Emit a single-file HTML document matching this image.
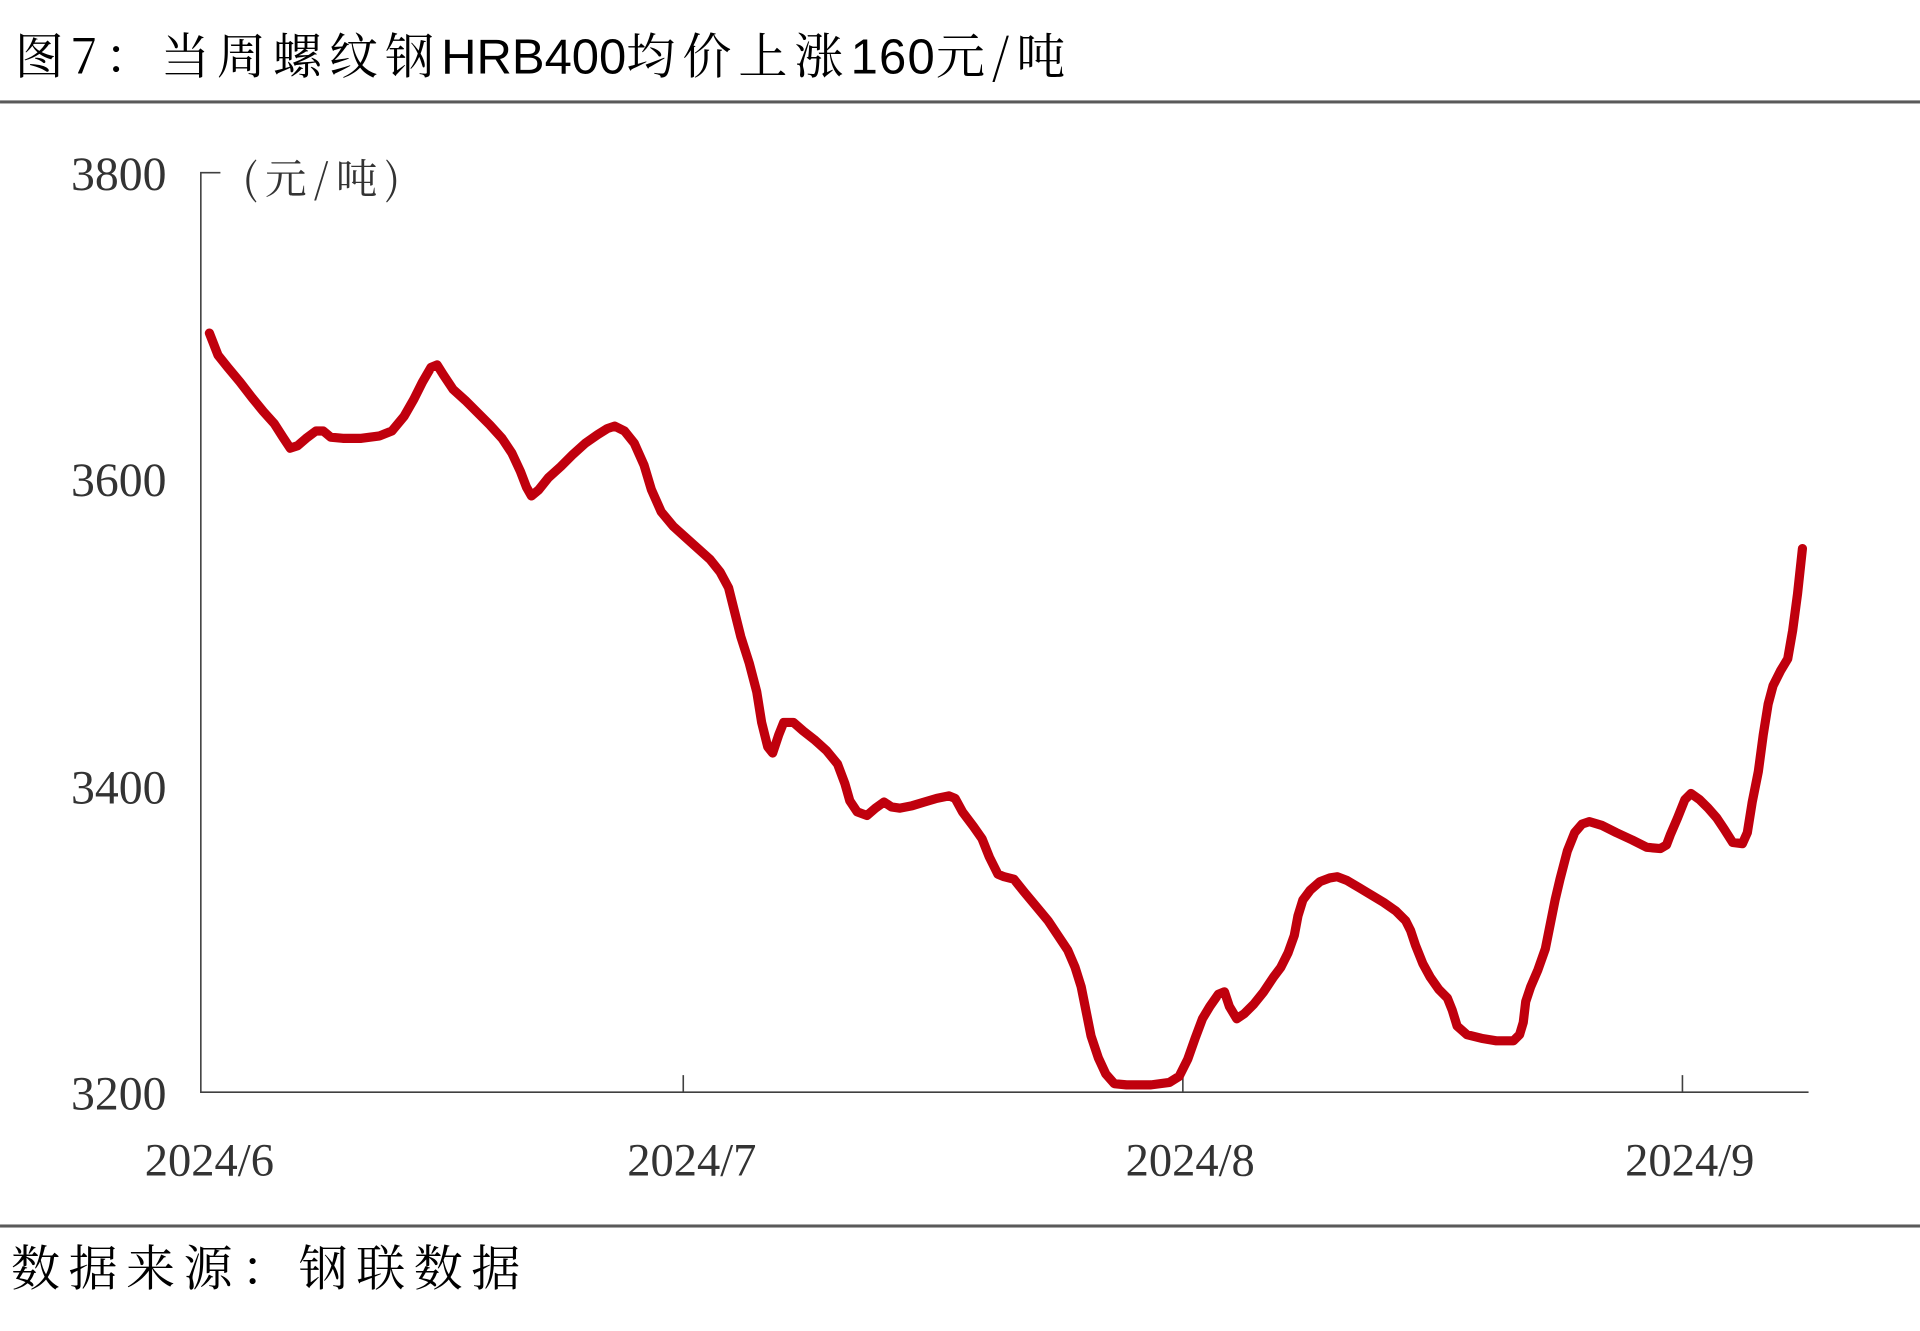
<!DOCTYPE html>
<html><head><meta charset="utf-8"><style>
html,body{margin:0;padding:0;background:#fff;}
svg{display:block;}
</style></head><body>
<svg width="1920" height="1331" viewBox="0 0 1568 1087" xmlns="http://www.w3.org/2000/svg">
<text x="12" y="60" font-family="'Noto Serif CJK SC','Liberation Serif',serif" font-size="40" fill="#000" letter-spacing="5.8">图7：当周螺纹钢<tspan font-family="'Liberation Sans','Noto Sans CJK SC',sans-serif" letter-spacing="0">HRB400</tspan>均价上涨<tspan font-family="'Liberation Sans',sans-serif" letter-spacing="1">160</tspan>元/吨</text>
<rect x="0" y="82" width="1568" height="2.5" fill="#5a5a5a"/>
<rect x="0" y="1000" width="1568" height="2.5" fill="#5a5a5a"/>
<g stroke="#404040" stroke-width="1.3" fill="none">
<path d="M180,141H164V892H1477"/>
<path d="M558,892V878M966,892V878M1374,892V878"/>
</g>
<g font-family="'Liberation Serif',serif" font-size="39" fill="#333" text-anchor="end">
<text x="136" y="155">3800</text>
<text x="136" y="405">3600</text>
<text x="136" y="656">3400</text>
<text x="136" y="906">3200</text>
</g>
<g font-family="'Liberation Serif',serif" font-size="38" fill="#333" text-anchor="middle">
<text x="171" y="960">2024/6</text>
<text x="565" y="960">2024/7</text>
<text x="972" y="960">2024/8</text>
<text x="1380" y="960">2024/9</text>
</g>
<text x="198" y="158" font-family="'Noto Serif CJK SC',serif" font-size="34" fill="#333" letter-spacing="6">(元/吨)</text>
<polyline fill="none" stroke="#c0000d" stroke-width="7.5" stroke-linejoin="round" stroke-linecap="round" points="171,272 178,290 186,300 196,312 206,325 215,336 224,346 231,357 237,366 243,364 250,358 258,352 264,352 270,357 280,358 295,358 310,356 320,352 330,340 338,326 345,312 352,300 357,298 362,306 370,318 380,327 390,337 400,347 410,358 418,370 425,385 430,398 434,405 440,400 448,390 458,381 468,371 478,362 488,355 496,350 502,348 510,352 518,362 526,380 532,400 540,418 550,430 560,439 570,448 580,457 588,467 595,480 600,500 605,520 612,542 618,565 622,590 627,610 631,615 636,600 640,590 648,590 656,597 665,604 675,613 684,624 690,640 694,654 700,663 708,666 715,660 722,655 728,659 735,660 745,658 755,655 765,652 775,650 780,652 786,663 795,675 802,685 808,700 815,714 820,716 828,718 836,728 846,740 856,752 864,764 872,776 878,790 883,806 887,826 891,846 897,864 903,877 910,885 920,886 940,886 955,884 963,879 970,865 976,848 982,832 988,822 995,812 1000,810 1004,822 1010,832 1016,828 1024,820 1032,810 1040,798 1046,790 1052,778 1057,764 1060,748 1064,735 1070,727 1078,720 1086,717 1092,716 1100,719 1110,725 1120,731 1130,737 1140,744 1148,752 1152,760 1156,772 1162,787 1168,798 1175,808 1182,815 1186,825 1190,838 1198,845 1210,848 1222,850 1236,850 1241,845 1244,835 1246,818 1250,806 1256,792 1262,775 1266,755 1270,735 1274,718 1280,695 1286,680 1292,673 1298,671 1308,674 1320,680 1333,686 1345,692 1356,693 1361,690 1364,682 1370,668 1376,653 1381,648 1388,653 1395,660 1402,668 1408,677 1415,688 1423,689 1427,680 1431,655 1436,630 1440,600 1444,575 1448,560 1454,548 1460,538 1464,515 1468,485 1472,448"/>
<text x="9" y="1050" font-family="'Noto Serif CJK SC',serif" font-size="40" fill="#000" letter-spacing="7">数据来源：钢联数据</text>
</svg>
</body></html>
